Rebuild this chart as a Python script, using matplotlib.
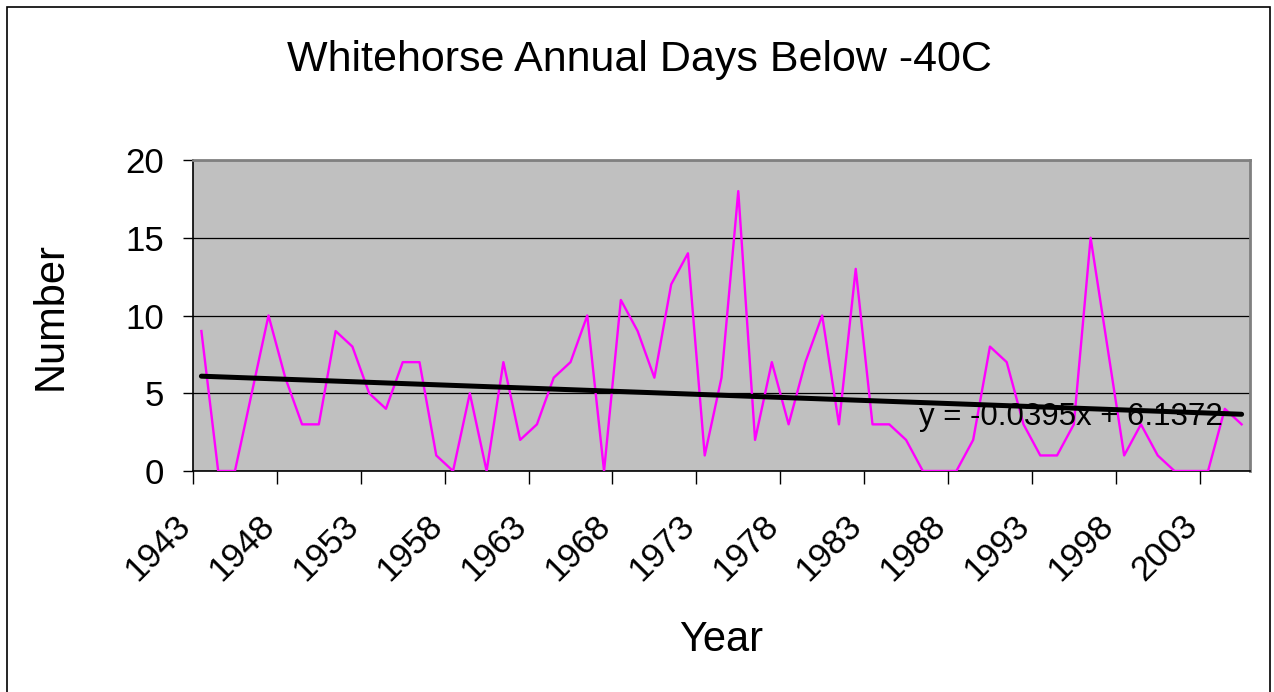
import matplotlib.pyplot as plt
import matplotlib.patches as patches
from matplotlib.transforms import ScaledTranslation

plt.rcParams['font.family'] = ['Liberation Sans', 'DejaVu Sans']

years = list(range(1943, 2006))
days_below_40 = [9, 0, 0, 5, 10, 6, 3, 3, 9, 8,
                 5, 4, 7, 7, 1, 0, 5, 0, 7, 2,
                 3, 6, 7, 10, 0, 11, 9, 6, 12, 14,
                 1, 6, 18, 2, 7, 3, 7, 10, 3, 13,
                 3, 3, 2, 0, 0, 0, 2, 8, 7, 3,
                 1, 1, 3, 15, 8, 1, 3, 1, 0, 0,
                 0, 4, 3]
trend_slope = -0.0395
trend_intercept = 6.1372
label_years = years[::5]

fig = plt.figure(figsize=(12.74, 6.92), dpi=100)
ax = fig.add_axes([193 / 1274, 1 - 471 / 692, (1250 - 193) / 1274, (471 - 160) / 692])

# category positions like an Excel line chart
idx = list(range(len(years)))
ax.plot(idx, days_below_40, color="#FF00FF", lw=1.7, zorder=3)

# linear trendline, x counted from 1
trend = [trend_slope * (i + 1) + trend_intercept for i in idx]
ax.plot([idx[0], idx[-1]], [trend[0], trend[-1]], color="black", lw=3.6,
        solid_capstyle="round", zorder=4)
ax.text(51.8, 2.96, "y = -0.0395x + 6.1372", fontsize=22.5, ha="center",
        va="baseline", zorder=5)

ax.set_facecolor("#C0C0C0")
ax.set_xlim(-0.5, len(years) - 0.5)
ax.set_ylim(0, 20)
ax.set_yticks([0, 5, 10, 15, 20])
ax.yaxis.grid(True, color="black", lw=0.9)
ax.set_axisbelow(True)

tick_pos = [i - 0.5 for i in range(0, len(years), 5)]
ax.set_xticks(tick_pos)
ax.set_xticklabels([str(y) for y in label_years], rotation=45, ha="right",
                   rotation_mode="anchor")
ax.tick_params(axis="x", length=9, width=1, labelsize=25, pad=6)
ax.tick_params(axis="y", length=7, width=1, labelsize=25, pad=14)

# shift the slanted year labels down-left like Excel does
shift = ScaledTranslation(-0.19, -0.17, fig.dpi_scale_trans)
for lab in ax.get_xticklabels():
    lab.set_transform(lab.get_transform() + shift)

for s in ["left", "bottom"]:
    ax.spines[s].set_color("black")
    ax.spines[s].set_linewidth(1.2)
for s in ["top", "right"]:
    ax.spines[s].set_color("#808080")
    ax.spines[s].set_linewidth(2)

ax.set_ylabel("Number", fontsize=30, labelpad=39)
ax.set_xlabel("Year", fontsize=30, labelpad=24)
fig.text(0.5 * (287 + 992) / 1274, 1 - 60 / 692, "Whitehorse Annual Days Below -40C",
         fontsize=31, ha="center", va="center")

# outer chart border (bottom edge falls outside the image)
fig.patches.append(patches.Rectangle((7 / 1274, -0.02), 1263 / 1274, 1.02 - 7 / 692,
                                     transform=fig.transFigure, fill=False,
                                     edgecolor="black", lw=1.2))

fig.savefig("out.png", dpi=100)
